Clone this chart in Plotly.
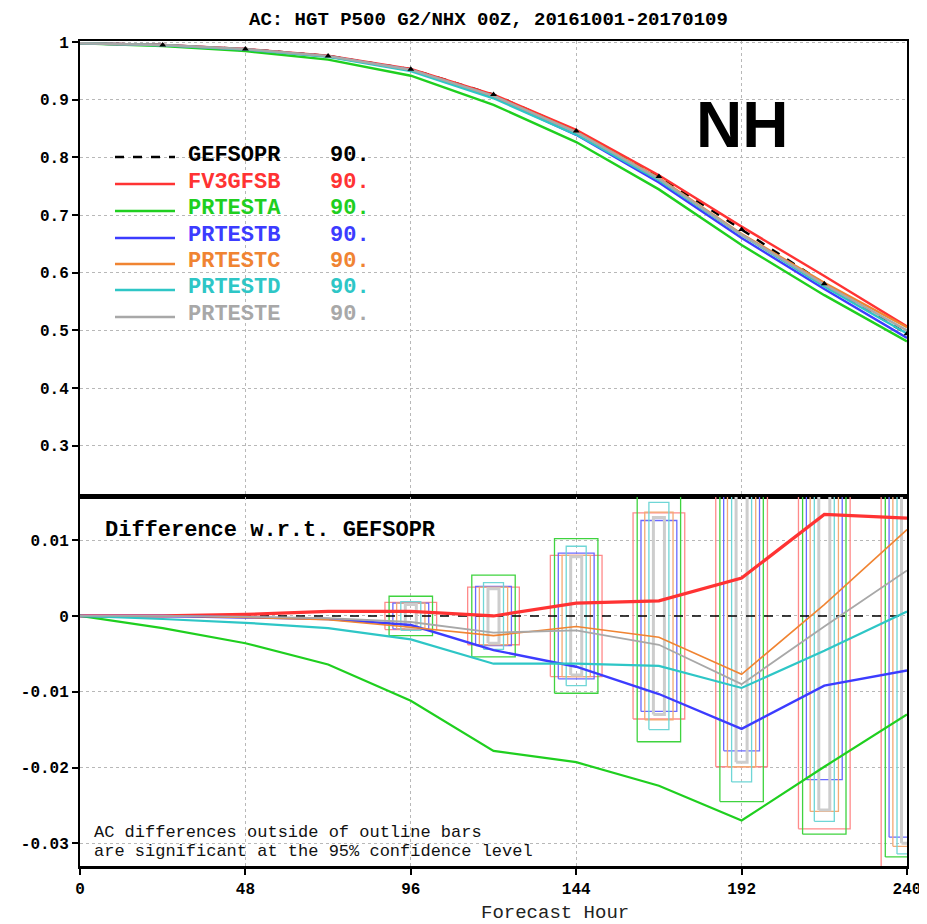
import plotly.graph_objects as go

# ---------------- data ----------------
hours = [0, 24, 48, 72, 96, 120, 144, 168, 192, 216, 240]
models = ["GEFSOPR", "FV3GFSB", "PRTESTA", "PRTESTB", "PRTESTC", "PRTESTD", "PRTESTE"]
colors = ["#000000", "#ff3333", "#1fcf1f", "#3c3cff", "#f08432", "#2ec6c6", "#a8a8a8"]
box_colors = ["#000000", "#ff8a8a", "#3fd33f", "#6a6aff", "#f4aa74", "#6fd6d6", "#cdcdcd"]
counts = ["90.", "90.", "90.", "90.", "90.", "90.", "90."]

# anomaly correlation of reference model (GEFSOPR)
ac_gefsopr = [0.998, 0.995, 0.988, 0.976, 0.953, 0.909, 0.846, 0.767, 0.675, 0.581, 0.494]

# differences w.r.t. GEFSOPR
diff = {
    "GEFSOPR": [0, 0, 0, 0, 0, 0, 0, 0, 0, 0, 0],
    "FV3GFSB": [0, 0.0000, 0.0002, 0.0006, 0.0006, 0.0000, 0.0017, 0.0020, 0.0050, 0.0134, 0.0129],
    "PRTESTA": [0, -0.0016, -0.0036, -0.0064, -0.0112, -0.0178, -0.0193, -0.0224, -0.0270, -0.0199, -0.0130],
    "PRTESTB": [0, 0.0000, -0.0002, -0.0004, -0.0012, -0.0045, -0.0067, -0.0103, -0.0149, -0.0092, -0.0072],
    "PRTESTC": [0, 0.0000, -0.0002, -0.0005, -0.0015, -0.0026, -0.0014, -0.0028, -0.0077, 0.0015, 0.0114],
    "PRTESTD": [0, -0.0004, -0.0009, -0.0016, -0.0031, -0.0063, -0.0063, -0.0066, -0.0095, -0.0046, 0.0006],
    "PRTESTE": [0, 0.0000, -0.0001, -0.0003, -0.0008, -0.0022, -0.0019, -0.0038, -0.0090, -0.0014, 0.0060],
}

# significance thresholds (95%) for the outline bars
bar_hours = [96, 120, 144, 168, 192, 216, 240]
bar_halfwidth = {"FV3GFSB": 7.5, "PRTESTA": 6.3, "PRTESTB": 5.2, "PRTESTC": 4.1, "PRTESTD": 2.9, "PRTESTE": 1.6}
sig = {
    "FV3GFSB": [0.0018, 0.0038, 0.0080, 0.0136, 0.0199, 0.0281, 0.0345],
    "PRTESTA": [0.0026, 0.0054, 0.0102, 0.0166, 0.0245, 0.0288, 0.0318],
    "PRTESTB": [0.0017, 0.0039, 0.0083, 0.0126, 0.0178, 0.0216, 0.0292],
    "PRTESTC": [0.0017, 0.0038, 0.0080, 0.0137, 0.0199, 0.0258, 0.0304],
    "PRTESTD": [0.0019, 0.0044, 0.0092, 0.0150, 0.0219, 0.0271, 0.0314],
    "PRTESTE": [0.0015, 0.0036, 0.0078, 0.0130, 0.0193, 0.0256, 0.0300],
}

upper_ticks = [1.0, 0.9, 0.8, 0.7, 0.6, 0.5, 0.4, 0.3]
upper_ticktext = ["1", "0.9", "0.8", "0.7", "0.6", "0.5", "0.4", "0.3"]
lower_ticks = [0.01, 0.0, -0.01, -0.02, -0.03]
lower_ticktext = ["0.01", "0", "-0.01", "-0.02", "-0.03"]
x_ticks = [0, 48, 96, 144, 192, 240]

# ---------------- figure ----------------
fig = go.Figure()

# upper panel lines
for i, m in enumerate(models):
    ac = [a + d for a, d in zip(ac_gefsopr, diff[m])]
    fig.add_trace(go.Scatter(
        x=hours, y=ac, mode="lines", xaxis="x", yaxis="y",
        line=dict(color=colors[i], width=2.4, dash="dash" if m == "GEFSOPR" else "solid"),
        showlegend=False, hoverinfo="skip"))
fig.add_trace(go.Scatter(
    x=hours[1:], y=ac_gefsopr[1:], mode="markers", xaxis="x", yaxis="y",
    marker=dict(symbol="triangle-up", size=6, color="black"),
    showlegend=False, hoverinfo="skip"))

# lower panel outline bars
for i, m in enumerate(models):
    if m == "GEFSOPR":
        continue
    bx, by = [], []
    w = bar_halfwidth[m]
    for h, s in zip(bar_hours, sig[m]):
        bx += [h - w, h + w, h + w, h - w, h - w, None]
        by += [-s, -s, s, s, -s, None]
    fig.add_trace(go.Scatter(
        x=bx, y=by, mode="lines", xaxis="x2", yaxis="y2",
        line=dict(color=box_colors[i], width=3 if m == "PRTESTE" else 1.3),
        showlegend=False, hoverinfo="skip"))

# lower panel difference lines
line_w = {"GEFSOPR": 1.5, "FV3GFSB": 3.2, "PRTESTA": 2.2, "PRTESTB": 2.4,
          "PRTESTC": 1.6, "PRTESTD": 2.2, "PRTESTE": 1.8}
for i, m in enumerate(models):
    fig.add_trace(go.Scatter(
        x=hours, y=diff[m], mode="lines", xaxis="x2", yaxis="y2",
        line=dict(color=colors[i], width=line_w[m], dash="dash" if m == "GEFSOPR" else "solid"),
        showlegend=False, hoverinfo="skip"))

split = 369 / 825
tickfont = dict(family="Liberation Mono", size=16, color="black", weight="bold")
grid = dict(showgrid=True, gridcolor="#b8b8b8", griddash="dot", gridwidth=1)

# page has an 8px body margin; figure is sized/positioned so the plot area sits at
# page x 80..907, y 41..866
fig.update_layout(
    width=919, height=916,
    margin=dict(l=72, r=20, t=33, b=58, autoexpand=False),
    paper_bgcolor="white", plot_bgcolor="white",
    xaxis=dict(domain=[0, 1], anchor="y", range=[0, 240], tickvals=x_ticks,
               showticklabels=False, ticks="", showline=True, mirror=True,
               linecolor="black", linewidth=2, zeroline=False, automargin=False, **grid),
    yaxis=dict(domain=[split, 1], anchor="x", range=[0.211, 1.002],
               tickvals=upper_ticks, ticktext=upper_ticktext, tickfont=tickfont,
               ticks="outside", ticklen=6, tickwidth=1.5, tickcolor="black",
               showline=True, mirror=True, linecolor="black", linewidth=2,
               zeroline=False, automargin=False, **grid),
    xaxis2=dict(domain=[0, 1], anchor="y2", range=[0, 240], matches="x",
                tickvals=x_ticks, ticktext=[str(v) for v in x_ticks], tickfont=tickfont,
                ticks="outside", ticklen=6, tickwidth=2, tickcolor="black",
                showline=True, mirror=True, linecolor="black", linewidth=2.5,
                zeroline=False, automargin=False, **grid),
    yaxis2=dict(domain=[0, split], anchor="x2", range=[-0.0330, 0.0157],
                tickvals=lower_ticks, ticktext=lower_ticktext, tickfont=tickfont,
                ticks="outside", ticklen=6, tickwidth=1.5, tickcolor="black",
                showline=True, mirror=True, linecolor="black", linewidth=2,
                zeroline=False, automargin=False, **grid),
)

def px_x(px):
    return (px - 80) / 827

def px_y(py):
    return 1 - (py - 41) / 825

ann = []
ann.append(dict(text="AC: HGT P500 G2/NHX 00Z, 20161001-20170109", x=px_x(488), y=px_y(20),
                xref="paper", yref="paper", showarrow=False, xanchor="center", yanchor="middle",
                font=dict(family="Liberation Mono", size=19, color="black", weight="bold")))
ann.append(dict(text="NH", x=px_x(742), y=px_y(125), xref="paper", yref="paper", showarrow=False,
                xanchor="center", yanchor="middle",
                font=dict(family="Liberation Sans", size=64, color="black", weight="bold")))
ann.append(dict(text="Difference w.r.t. GEFSOPR", x=px_x(103), y=px_y(530), xref="paper", yref="paper",
                showarrow=False, xanchor="left", yanchor="middle",
                font=dict(family="Liberation Mono", size=22, color="black", weight="bold")))
ann.append(dict(text="AC differences outside of outline bars", x=px_x(92), y=px_y(832),
                xref="paper", yref="paper", showarrow=False, xanchor="left", yanchor="middle",
                font=dict(family="Liberation Mono", size=17, color="#111111")))
ann.append(dict(text="are significant at the 95% confidence level", x=px_x(92), y=px_y(851),
                xref="paper", yref="paper", showarrow=False, xanchor="left", yanchor="middle",
                font=dict(family="Liberation Mono", size=17, color="#111111")))
ann.append(dict(text="Forecast Hour", x=px_x(555), y=px_y(913), xref="paper", yref="paper",
                showarrow=False, xanchor="center", yanchor="middle",
                font=dict(family="Liberation Mono", size=19, color="#222222")))

shapes = []
row_y = [155, 182, 209, 236, 262, 288, 315]
for i, m in enumerate(models):
    yy = px_y(row_y[i] + 2)
    shapes.append(dict(type="line", xref="paper", yref="paper", x0=px_x(115), x1=px_x(175),
                       y0=yy, y1=yy,
                       line=dict(color=colors[i], width=2.5, dash="dash" if m == "GEFSOPR" else "solid")))
    ann.append(dict(text=m, x=px_x(186), y=px_y(row_y[i]), xref="paper", yref="paper",
                    showarrow=False, xanchor="left", yanchor="middle",
                    font=dict(family="Liberation Mono", size=22, color=colors[i], weight="bold")))
    ann.append(dict(text=counts[i], x=px_x(328), y=px_y(row_y[i]), xref="paper", yref="paper",
                    showarrow=False, xanchor="left", yanchor="middle",
                    font=dict(family="Liberation Mono", size=22, color=colors[i], weight="bold")))

fig.update_layout(annotations=ann, shapes=shapes)
fig.write_html("out.html")
